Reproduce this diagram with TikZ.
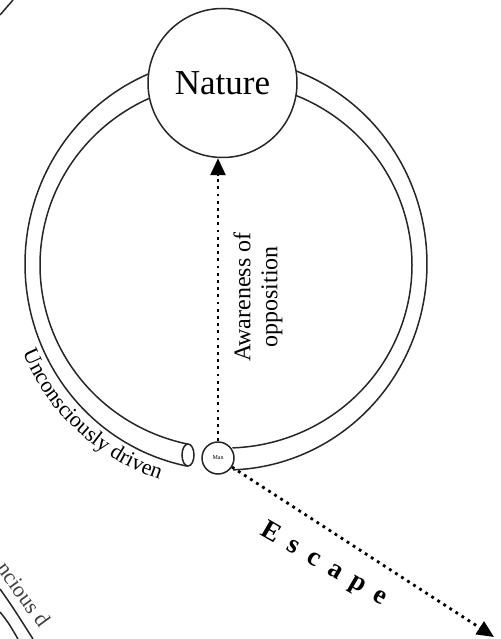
\documentclass[tikz,border=0pt]{standalone}
\usepackage{fontspec}
\setmainfont{Liberation Serif}
\usetikzlibrary{arrows.meta,decorations.text}
\begin{document}
\begin{tikzpicture}[x=1pt,y=-1pt,
  ringline/.style={line width=1.5pt, draw=black!85},
  dotarrow/.style={line width=2.8pt, dash pattern=on 2.8pt off 4.4pt, -{Triangle[length=17pt,width=15pt]}},
  bignode/.style={circle, draw=black!85, fill=white, line width=1.5pt, inner sep=0pt},
]
\useasboundingbox (0,0) rectangle (500,639);
\clip (0,0) rectangle (500,639);
% ring (tube)
\draw[ringline] plot[domain=-259:88, samples=300] ({226+201*cos(\x)},{264+206*sin(\x)});
\draw[ringline] plot[domain=-258.2:88, samples=300] ({226+186*cos(\x)},{265+183*sin(\x)});
\draw[ringline] (188,455) ellipse [x radius=6, y radius=11];
% curved label
\path[decorate, decoration={text along path, text align=center,
  text={|\fontsize{22}{24}\selectfont|Unconsciously driven}}]
  plot[domain=176:88, samples=120] ({226+221*cos(\x)},{264+226*sin(\x)});
% nodes
\node[bignode, minimum size=149pt, font=\fontsize{35}{40}\selectfont] (nature) at (222.5,83) {Nature};
\node[bignode, minimum size=32pt, font=\fontsize{6}{7}\selectfont] (man) at (218,458) {Man};
% arrows
\draw[dotarrow] (man.north) -- (man.north |- nature.south);
\coordinate (esc) at (494,637);
\draw[dotarrow] (man) -- (esc);
% labels
\node[rotate=90, align=center, font=\fontsize{24}{27}\selectfont] (aware) at (258,297) {Awareness of\\opposition};
\node[rotate=-30, font=\fontsize{27}{30}\selectfont\bfseries] (esctext) at (324,565)
  {E\hspace{12pt}s\hspace{12pt}c\hspace{12pt}a\hspace{12pt}p\hspace{12pt}e};
% fragments of neighbouring drawings
\draw[ringline] (0,15) -- (13,0);
\draw[ringline] (0,589) .. controls (12,606) .. (33,639);
\draw[ringline] (0,612) .. controls (8,622) .. (18,639);
\node[rotate=-54, font=\fontsize{22}{24}\selectfont, text=black!75] (frag) at (24,594) {ncious d};
\end{tikzpicture}
\end{document}
